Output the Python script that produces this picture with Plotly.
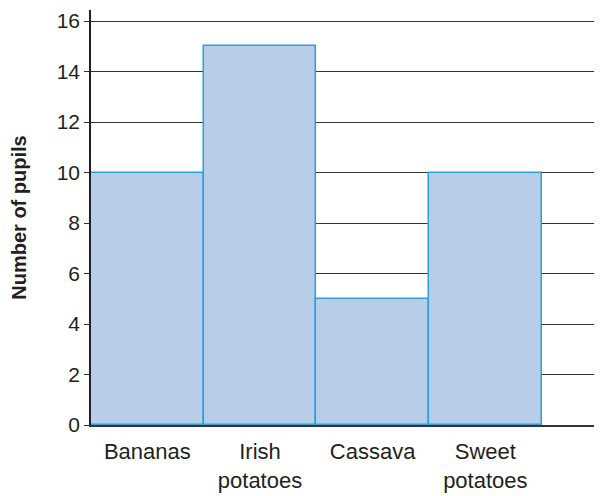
import plotly.graph_objects as go

foods = ["Bananas", "Irish<br>potatoes", "Cassava", "Sweet<br>potatoes"]
pupils = [10, 15, 5, 10]
y_ticks = [0, 2, 4, 6, 8, 10, 12, 14, 16]

fig = go.Figure()
fig.add_trace(go.Bar(x=foods, y=pupils, width=1,
                     marker=dict(color="#b8cee8",
                                 line=dict(color="#2aa0dc", width=1.5))))

# page body has an 8px margin, so the figure is a bit smaller and shifted
fig.update_layout(
    width=594, height=488,
    margin=dict(l=83, r=4, t=2, b=71),
    plot_bgcolor="white", paper_bgcolor="white",
    showlegend=False, bargap=0,
    font=dict(family="Liberation Sans, Arial, sans-serif", size=21, color="#231f20"),
)
fig.update_xaxes(range=[-0.5, 4.0], showline=True, linecolor="#333333", linewidth=1.5,
                 showgrid=False, ticks="", tickfont=dict(size=22), automargin=False,
                 ticklabelstandoff=6)
fig.update_yaxes(range=[0, 16.44], tickvals=y_ticks, showline=True, linecolor="#231f20",
                 linewidth=1.5, showgrid=True, gridcolor="#333333", gridwidth=1.3,
                 ticks="outside", ticklen=5, tickcolor="#333333", tickwidth=1.3,
                 zeroline=False, tickfont=dict(size=21), automargin=False,
                 title=dict(text="<b>Number of pupils</b>", font=dict(size=20), standoff=25))

fig.write_html("out.html")
